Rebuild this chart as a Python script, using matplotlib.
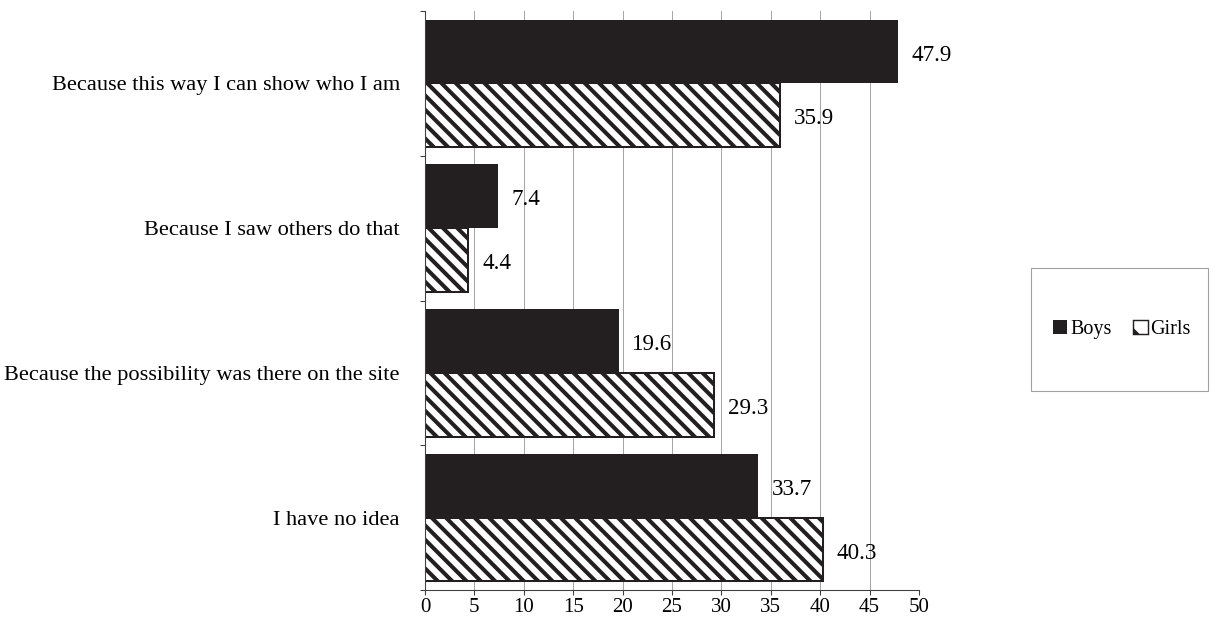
import matplotlib
matplotlib.use("Agg")
import matplotlib.pyplot as plt
from matplotlib.patches import Patch, Rectangle
import numpy as np

# ---- data ----
categories = [
    "Because this way I can show who I am",
    "Because I saw others do that",
    "Because the possibility was there on the site",
    "I have no idea",
]
boys = [47.9, 7.4, 19.6, 33.7]
girls = [35.9, 4.4, 29.3, 40.3]
x_ticks = [0, 5, 10, 15, 20, 25, 30, 35, 40, 45, 50]
series_names = ["Boys", "Girls"]

DPI = 86
W, H = 1216, 627
DARK = "#231f20"

plt.rcParams["font.family"] = ["Liberation Serif", "DejaVu Serif"]
plt.rcParams["hatch.linewidth"] = 3.4
plt.rcParams["hatch.color"] = DARK

fig = plt.figure(figsize=(W / DPI, H / DPI), dpi=DPI)
ax = fig.add_axes([425 / W, 1 - 590 / H, (919 - 425) / W, (590 - 11) / H])

pos = np.arange(len(categories))
h = 0.44

ax.barh(pos - h / 2, boys, height=h, color=DARK, edgecolor=DARK,
        linewidth=0, zorder=3)
ax.barh(pos + h / 2, girls, height=h, color="white", edgecolor=DARK,
        hatch="\\\\", linewidth=1.7, zorder=3)

# value labels
for y, v in zip(pos - h / 2, boys):
    ax.annotate(f"{v:.1f}", (v, y), xytext=(11.5, -3), textcoords="offset points",
                ha="left", va="center", fontsize=19.3, color="black", zorder=4)
for y, v in zip(pos + h / 2, girls):
    ax.annotate(f"{v:.1f}", (v, y), xytext=(11.5, -3), textcoords="offset points",
                ha="left", va="center", fontsize=19.3, color="black", zorder=4)

ax.set_xlim(0, 50)
ax.set_ylim(len(categories) - 0.5, -0.5)

# x axis
ax.set_xticks(x_ticks)
ax.set_xticklabels([str(t) for t in x_ticks], fontsize=17.5)
ax.tick_params(axis="x", direction="out", length=4.5, width=0.9,
               color="#404040", pad=2.5)
for t in x_ticks[1:]:
    ax.axvline(t, color="#a6a6a6", linewidth=0.85, zorder=1)

# y axis: ticks at category boundaries, labels at centres
ax.set_yticks(np.arange(-0.5, len(categories), 1.0))
ax.set_yticklabels([])
ax.set_yticks(pos, minor=True)
ax.set_yticklabels(categories, minor=True, fontsize=18.75)
ax.tick_params(axis="y", which="major", direction="out", length=4.5,
               width=0.9, color="#404040")
ax.tick_params(axis="y", which="minor", length=0, pad=21)

for side in ("top", "right"):
    ax.spines[side].set_visible(False)
for side in ("left", "bottom"):
    ax.spines[side].set_color("#404040")
    ax.spines[side].set_linewidth(0.9)
    ax.spines[side].set_zorder(5)

# legend in its own framed box
bx0, bx1, by0, by1 = 1031, 1208, 268, 391
fig.patches.append(Rectangle((bx0 / W, 1 - by1 / H), (bx1 - bx0) / W,
                             (by1 - by0) / H, transform=fig.transFigure,
                             facecolor="white", edgecolor="#a0a0a0",
                             linewidth=0.9))
handles = [Patch(facecolor=DARK, edgecolor=DARK, linewidth=0),
           Patch(facecolor="white", edgecolor=DARK, hatch="\\", linewidth=1.2)]
fig.legend(handles, series_names, loc="center",
           bbox_to_anchor=((bx0 + bx1) / 2 / W + 0.002, 1 - (by0 + by1) / 2 / H),
           ncol=2, frameon=False, fontsize=16.8, handlelength=0.7,
           handleheight=0.7, handletextpad=0.15, columnspacing=1.1,
           borderpad=0)

fig.savefig("out.png", dpi=DPI)
